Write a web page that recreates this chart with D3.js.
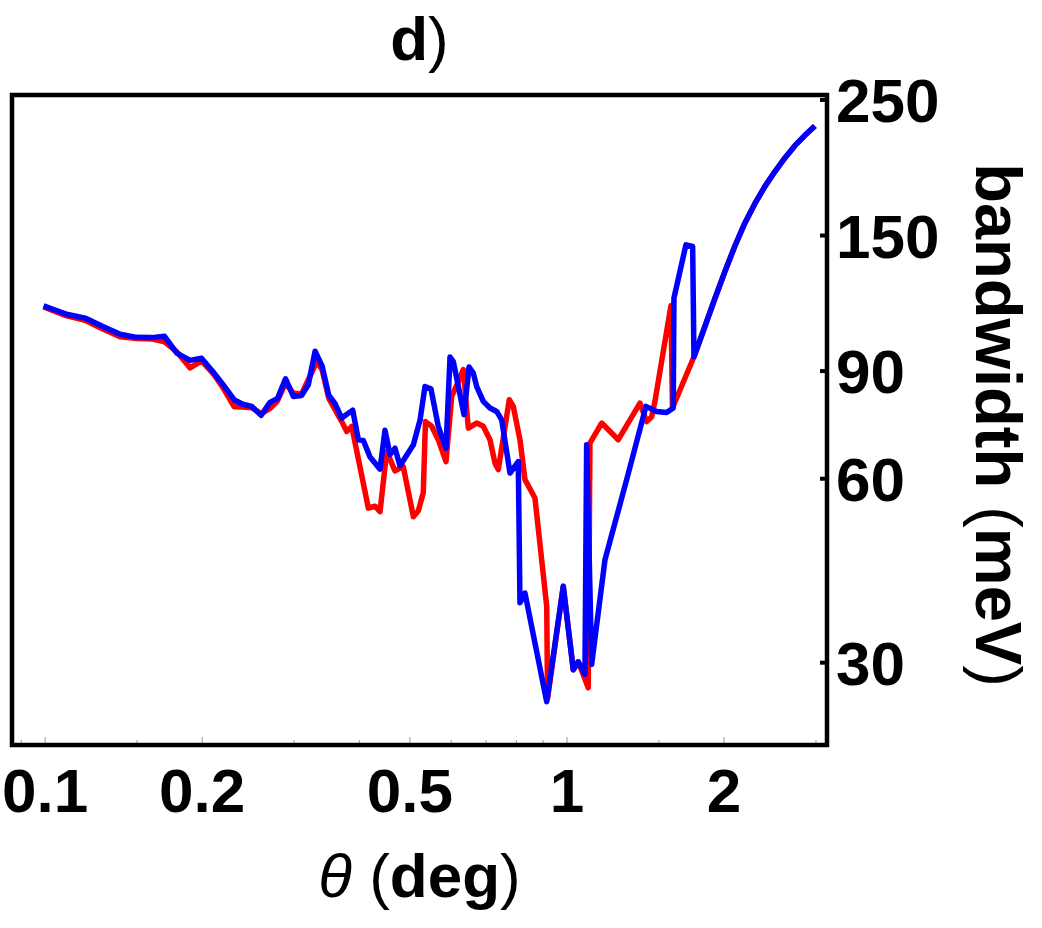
<!DOCTYPE html>
<html>
<head>
<meta charset="utf-8">
<script src="https://cdn.jsdelivr.net/npm/d3@7"></script>
<style>
  html, body { margin: 0; padding: 0; background: #fff; }
  svg { display: block; }
  text { font-family: "Liberation Sans", Arial, sans-serif; }
</style>
</head>
<body>
<svg id="chart" width="1042" height="928"></svg>
<script>
// ---------------- data ----------------
const thetaBlue = [0.0993,0.1100,0.1193,0.1284,0.1392,0.1498,0.1601,0.1694,0.1788,0.1896,
  0.1994,0.2101,0.2193,0.2302,0.2384,0.2489,0.2594,0.2693,0.2789,0.2889,
  0.2990,0.3100,0.3194,0.3291,0.3394,0.3495,0.3594,0.3702,0.3885,0.3983,
  0.4072,0.4194,0.4383,0.4480,0.4580,0.4682,0.4786,0.5078,0.5230,0.5344,
  0.5487,0.5667,0.5864,0.5969,0.6056,0.6349,0.6491,0.6615,0.6715,0.6912,
  0.7119,0.7335,0.7497,0.7777,0.8067,0.8127,0.8308,0.9145,0.9838,1.0282,
  1.0511,1.0826,1.0907,1.1151,1.1826,1.3014,1.4170,1.4854,1.5524,1.5983,
  1.6033,1.6903,1.7413,1.7513,1.7982,1.8545,1.9209,2.0076,2.0981,2.1928,
  2.2923,2.3955,2.5033,2.6161,2.7340,2.8573,2.9863];
const bwBlue = [115.1,111.5,109.9,106.7,103.4,102.2,102.1,102.6,96.3,93.7,
  94.5,89.6,85.5,80.8,79.5,78.8,76.2,79.9,81.2,87.4,
  81.8,82.1,85.5,97.0,91.8,82.2,79.6,75.4,77.7,69.5,
  69.3,65.1,62.2,72.0,65.7,67.3,63.0,68.2,74.9,84.9,
  84.2,73.1,67.3,94.9,93.3,76.4,91.4,89.3,84.9,80.3,
  78.3,77.3,74.9,61.3,64.0,37.6,39.0,25.9,40.0,29.2,
  30.1,28.7,68.2,29.8,44.2,59.8,78.8,77.3,77.0,78.3,
  118.5,144.8,143.9,95.0,101.1,108.8,118.3,131.0,144.2,157.3,
  169.3,180.5,190.9,200.9,210.4,218.8,226.7];

const thetaRed = [0.0993,0.1100,0.1193,0.1284,0.1392,0.1498,0.1601,0.1694,0.1788,0.1896,
  0.1994,0.2101,0.2193,0.2302,0.2384,0.2489,0.2594,0.2693,0.2789,0.2889,
  0.2990,0.3100,0.3194,0.3316,0.3394,0.3495,0.3594,0.3702,0.3784,0.3868,
  0.4163,0.4287,0.4383,0.4514,0.4682,0.4856,0.5078,0.5191,0.5304,0.5356,
  0.5505,0.5667,0.5864,0.6013,0.6156,0.6329,0.6471,0.6715,0.6912,0.7119,
  0.7280,0.7386,0.7753,0.7891,0.8127,0.8308,0.8683,0.9145,0.9180,0.9838,
  1.0282,1.0511,1.0985,1.1067,1.1655,1.2541,1.3800,1.4214,1.4531,1.4743,
  1.5822,1.5927,1.7513,1.7982,1.8545,1.9209,2.0076,2.0981,2.1928,2.2923,
  2.3955,2.5033,2.6161,2.7340,2.8573,2.9863];
const bwRed = [114.6,110.8,109.0,105.7,102.4,101.8,101.6,100.5,96.8,91.1,
  93.5,89.1,84.5,78.7,78.6,78.4,76.6,78.1,80.5,86.1,
  82.8,82.6,87.1,93.3,90.5,81.3,77.8,74.4,71.7,73.1,
  53.7,54.1,53.0,66.5,61.8,62.8,52.0,53.2,56.9,74.4,
  73.1,69.5,64.0,81.8,85.5,90.5,72.6,74.0,73.1,69.5,
  63.6,62.1,80.8,78.8,69.5,59.8,55.8,37.1,26.2,40.0,
  29.2,30.1,27.3,68.6,74.0,69.5,79.8,74.4,75.8,80.3,
  115.1,78.3,95.0,101.1,108.8,118.3,131.0,144.2,157.3,169.3,
  180.5,190.9,200.9,210.4,218.8,226.7];

const xMajorTicks = [0.1, 0.2, 0.5, 1, 2];
const xMajorLabels = ["0.1", "0.2", "0.5", "1", "2"];
const xMinorTicks = [0.09, 0.15, 0.3, 0.4, 0.6, 0.7, 0.8, 0.9, 1.5, 3];
const yTicks = [30, 60, 90, 150, 250];
const yTickLabels = ["30", "60", "90", "150", "250"];

// ---------------- layout ----------------
const L = 12, R = 827, T = 95, B = 745;
const svg = d3.select("#chart");

const x = d3.scaleLog().domain([0.0864, 3.15]).range([L, R]);
const y = d3.scaleLog().domain([22.0, 254.7]).range([B, T]);

svg.append("defs").append("clipPath").attr("id", "plotclip")
  .append("rect").attr("x", L).attr("y", T).attr("width", R - L).attr("height", B - T);

// bottom ticks (inside, thin gray)
svg.append("g").selectAll("line").data(xMinorTicks).join("line")
  .attr("x1", d => x(d)).attr("x2", d => x(d))
  .attr("y1", B).attr("y2", B - 5)
  .attr("stroke", "#999").attr("stroke-width", 1);
svg.append("g").selectAll("line").data(xMajorTicks).join("line")
  .attr("x1", d => x(d)).attr("x2", d => x(d))
  .attr("y1", B).attr("y2", B - 8)
  .attr("stroke", "#999").attr("stroke-width", 1);

// lines
const line = d3.line().x(d => x(d[0])).y(d => y(d[1]));
const redPts = thetaRed.map((t, i) => [t, bwRed[i]]);
const bluePts = thetaBlue.map((t, i) => [t, bwBlue[i]]);

const g = svg.append("g").attr("clip-path", "url(#plotclip)");
g.append("path").datum(redPts).attr("d", line)
  .attr("fill", "none").attr("stroke", "#ff0000").attr("stroke-width", 5.5)
  .attr("stroke-linejoin", "round");
g.append("path").datum(bluePts).attr("d", line)
  .attr("fill", "none").attr("stroke", "#0000ff").attr("stroke-width", 5.5)
  .attr("stroke-linejoin", "round");

// frame
svg.append("rect").attr("x", L).attr("y", T).attr("width", R - L).attr("height", B - T)
  .attr("fill", "none").attr("stroke", "#000").attr("stroke-width", 4.5);

// right ticks
svg.append("g").selectAll("line").data(yTicks).join("line")
  .attr("x1", R).attr("x2", R - 7)
  .attr("y1", d => y(d)).attr("y2", d => y(d))
  .attr("stroke", "#000").attr("stroke-width", 4);

// tick labels
svg.append("g").selectAll("text").data(xMajorTicks).join("text")
  .attr("x", d => x(d)).attr("y", 812)
  .attr("text-anchor", "middle")
  .attr("font-size", 62).attr("font-weight", "bold")
  .text((d, i) => xMajorLabels[i]);

svg.append("g").selectAll("text").data(yTicks).join("text")
  .attr("x", 836).attr("y", d => y(d) + 22)
  .attr("text-anchor", "start")
  .attr("font-size", 62).attr("font-weight", "bold")
  .text((d, i) => yTickLabels[i]);

// title
const title = svg.append("text").attr("x", (L + R) / 2).attr("y", 60)
  .attr("text-anchor", "middle").attr("font-size", 62);
title.append("tspan").attr("font-weight", "bold").text("d");
title.append("tspan").attr("font-weight", "normal").text(")");

// x label
const xl = svg.append("text").attr("x", (L + R) / 2).attr("y", 897)
  .attr("text-anchor", "middle").attr("font-size", 62);
xl.append("tspan").attr("font-style", "italic").text("θ");
xl.append("tspan").text(" (");
xl.append("tspan").attr("font-weight", "bold").text("deg");
xl.append("tspan").text(")");

// y label (rotated, right side)
const yl = svg.append("text")
  .attr("transform", "translate(976,425) rotate(90)")
  .attr("text-anchor", "middle").attr("font-size", 65);
yl.append("tspan").attr("font-weight", "bold").text("bandwidth");
yl.append("tspan").text(" (");
yl.append("tspan").attr("font-weight", "bold").text("meV");
yl.append("tspan").text(")");
</script>
</body>
</html>
